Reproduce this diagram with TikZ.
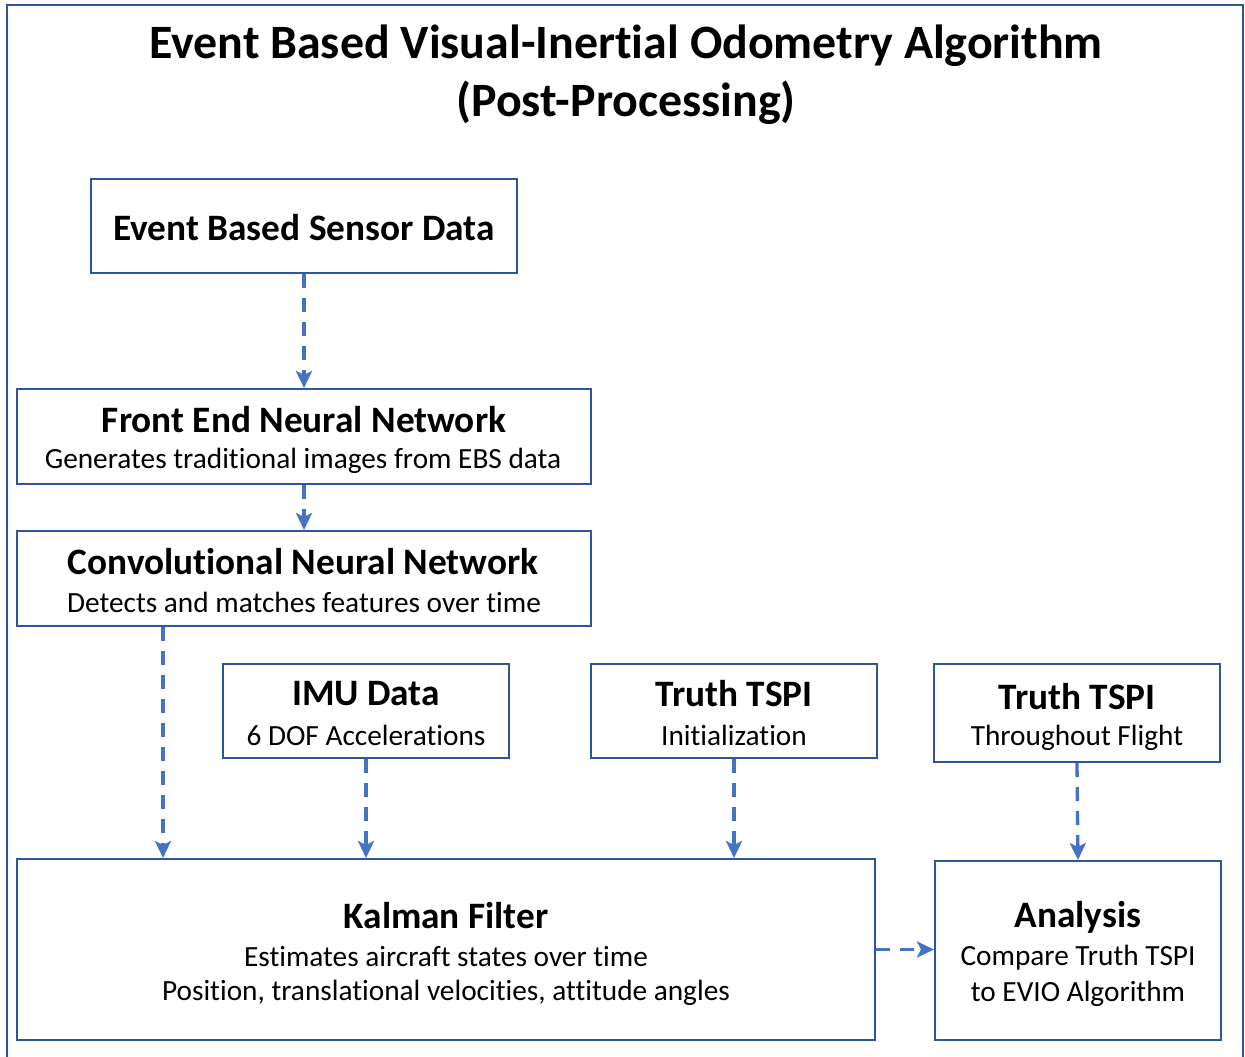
\documentclass[tikz,border=0pt]{standalone}
\usepackage{fontspec}
\setmainfont{Carlito}[Ligatures=NoCommon]
\usetikzlibrary{arrows.meta,calc}
\definecolor{boxblue}{HTML}{2F5597}
\definecolor{arrblue}{HTML}{4472C4}
\tikzset{
  box/.style={draw=boxblue, line width=2pt, rectangle, inner sep=0pt},
  ttl/.style={font=\fontsize{37.3}{42}\selectfont\bfseries, inner sep=0pt, anchor=center},
  sub/.style={font=\fontsize{29.3}{34}\selectfont, inner sep=0pt, anchor=center},
  arr/.style={draw=arrblue, line width=3.3pt, dash pattern=on 14pt off 10pt,
    -{Stealth[length=17pt,width=16pt,inset=4pt]}}
}
\begin{document}
\begin{tikzpicture}[x=1pt,y=-1pt]
\useasboundingbox (0,0) rectangle (1245,1057);
\draw[boxblue, line width=2.5pt] (7,1075) -- (7,5) -- (1243,5) -- (1243,1075);
\node[font=\fontsize{47.9}{54}\selectfont\bfseries, inner sep=0pt] (t1) at (626,46) {Event Based Visual-Inertial Odometry Algorithm};
\node[font=\fontsize{47.9}{54}\selectfont\bfseries, inner sep=0pt] (t2) at (626,103) {(Post-Processing)};

% boxes
\node[box, minimum width=426pt, minimum height=94pt] (ebsd) at (304,226) {};
\node[box, minimum width=574pt, minimum height=95pt] (fenn) at (304,436.5) {};
\node[box, minimum width=574pt, minimum height=95pt] (cnn) at (304,578.5) {};
\node[box, minimum width=286pt, minimum height=94pt] (imu) at (366,711) {};
\node[box, minimum width=286pt, minimum height=94pt] (tinit) at (734,711) {};
\node[box, minimum width=286pt, minimum height=98pt] (tflt) at (1077,713) {};
\node[box, minimum width=858pt, minimum height=181pt] (kal) at (446,949.5) {};
\node[box, minimum width=286pt, minimum height=179pt] (ana) at (1078,950.5) {};

% texts
\node[ttl] (ebsdt) at (304,228) {Event Based Sensor Data};
\node[ttl] (fennt) at (304,420) {Front End Neural Network};
\node[sub] (fenns) at (303,461) {Generates traditional images from EBS data};
\node[ttl] (cnnt) at (303,562) {Convolutional Neural Network};
\node[sub] (cnns) at (304,602) {Detects and matches features over time};
\node[ttl] (imut) at (366,694) {IMU Data};
\node[sub] (imus) at (366,735) {6 DOF Accelerations};
\node[ttl] (tinitt) at (734,694) {Truth TSPI};
\node[sub] (tinits) at (734,735) {Initialization};
\node[ttl] (tfltt) at (1077,697) {Truth TSPI};
\node[sub] (tflts) at (1077,738) {Throughout Flight};
\node[ttl] (kalt) at (446,916) {Kalman Filter};
\node[sub] (kals1) at (446,957) {Estimates aircraft states over time};
\node[sub] (kals2) at (446,993) {Position, translational velocities, attitude angles};
\node[ttl] (anat) at (1078,917) {Analysis};
\node[sub] (anas1) at (1078,958) {Compare Truth TSPI};
\node[sub] (anas2) at (1078,994) {to EVIO Algorithm};

% connectors
\draw[arr] (ebsd.south) -- (fenn.north);
\draw[arr] (fenn.south) -- (cnn.north);
\draw[arr] (cnn.south -| 163,0) -- (kal.north -| 163,0);
\draw[arr] (imu.south) -- (imu.south |- kal.north);
\draw[arr] (tinit.south) -- (tinit.south |- kal.north);
\draw[arr] (tflt.south) -- (ana.north);
\draw[arr] (kal.east) -- (kal.east -| ana.west);
\end{tikzpicture}
\end{document}
